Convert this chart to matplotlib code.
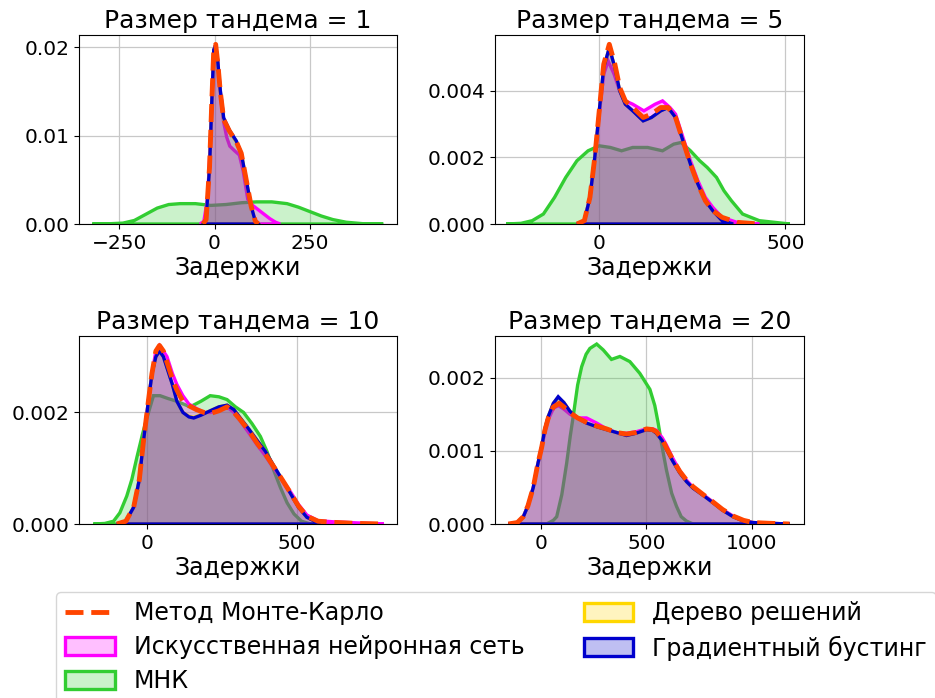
import matplotlib
matplotlib.use("Agg")
import matplotlib.pyplot as plt
from matplotlib.lines import Line2D
from matplotlib.patches import Patch
from matplotlib.ticker import FormatStrFormatter

plt.rcParams["font.family"] = ["DejaVu Sans"]

TITLES = ["Размер тандема = 1", "Размер тандема = 5",
          "Размер тандема = 10", "Размер тандема = 20"]
XLABEL = "Задержки"
LABELS = ["Метод Монте-Карло", "Искусственная нейронная сеть", "МНК",
          "Дерево решений", "Градиентный бустинг"]

# ---- tandem size 1 ----
X1_MC = [-30, -22, -13, -7, -2, 3, 9, 15, 24, 39, 57, 70, 83, 96, 107, 115]
Y1_MC = [0, 0.0005, 0.0065, 0.014, 0.0197, 0.0203, 0.018, 0.015, 0.0118, 0.0105,
         0.0093, 0.008, 0.005, 0.002, 0.0003, 0]
X1_ANN = [-38, -28, -18, -10, -4, 2, 7, 12, 17, 24, 32, 40, 52, 65, 75, 87, 100, 115, 130, 145, 160, 172]
Y1_ANN = [0, 0.0003, 0.003, 0.010, 0.017, 0.0202, 0.019, 0.0165, 0.014, 0.0115, 0.0098,
          0.0088, 0.0083, 0.0078, 0.006, 0.0028, 0.0021, 0.0016, 0.0011, 0.0006, 0.0002, 0]
X1_OLS = [-320, -280, -240, -210, -180, -150, -120, -90, -50, -10, 30, 70, 110, 150,
          190, 220, 250, 280, 310, 345, 390, 442]
Y1_OLS = [0, 0.00002, 0.0001, 0.0004, 0.0011, 0.0018, 0.0022, 0.0023, 0.0023, 0.0021,
          0.0022, 0.0024, 0.0025, 0.0025, 0.0023, 0.0019, 0.0014, 0.0009, 0.0005, 0.0002,
          0.00003, 0]
X1_TREE = [-30, -22, -13, -7, -2, 3, 9, 15, 24, 39, 57, 70, 83, 96, 107, 115]
Y1_TREE = [0, 0.0005, 0.0065, 0.014, 0.0197, 0.0202, 0.018, 0.015, 0.0118, 0.0105,
           0.0093, 0.008, 0.005, 0.002, 0.0003, 0]
X1_GB = [-30, -22, -13, -7, -2, 3, 9, 15, 24, 39, 57, 70, 83, 96, 107, 115]
Y1_GB = [0, 0.0005, 0.0065, 0.014, 0.0197, 0.0202, 0.0182, 0.0152, 0.012, 0.0106,
         0.0094, 0.008, 0.005, 0.002, 0.0003, 0]

# ---- tandem size 5 ----
X2_MC = [-60, -40, -25, -12, 0, 12, 27, 42, 55, 70, 90, 118, 140, 165, 185, 205, 225,
         245, 265, 285, 305, 330, 370, 430]
Y2_MC = [0, 0.0001, 0.0008, 0.002, 0.0034, 0.0048, 0.0054, 0.0048, 0.0041, 0.0037,
         0.0035, 0.0032, 0.0033, 0.0035, 0.0035, 0.0032, 0.0025, 0.0018, 0.0012, 0.0007,
         0.0004, 0.0002, 0.00005, 0]
X2_ANN = [-60, -40, -25, -12, 0, 12, 24, 40, 55, 70, 90, 120, 150, 170, 190, 205, 225,
          245, 265, 285, 305, 330, 370, 430]
Y2_ANN = [0, 0.0001, 0.0008, 0.002, 0.0033, 0.0045, 0.0049, 0.0045, 0.004, 0.0037,
          0.0036, 0.0034, 0.0036, 0.0037, 0.0035, 0.0033, 0.0026, 0.0019, 0.0013, 0.0008,
          0.0005, 0.0002, 0.00005, 0]
X2_OLS = [-250, -210, -180, -150, -120, -90, -60, -30, 0, 30, 60, 90, 130, 170, 200,
          220, 245, 270, 290, 315, 335, 355, 385, 430, 512]
Y2_OLS = [0, 0.00002, 0.0001, 0.0003, 0.0008, 0.0014, 0.0019, 0.0022, 0.00235, 0.0023,
          0.0022, 0.0023, 0.0023, 0.0022, 0.0024, 0.00245, 0.0022, 0.0019, 0.0017, 0.0014,
          0.001, 0.0007, 0.0003, 0.0001, 0]
X2_TREE = [-60, -40, -25, -12, 0, 12, 27, 42, 55, 70, 90, 118, 140, 165, 185, 205, 225,
           245, 265, 285, 305, 330, 360]
Y2_TREE = [0, 0.0001, 0.0008, 0.002, 0.0034, 0.0047, 0.0053, 0.0047, 0.004, 0.0036,
           0.0034, 0.0031, 0.0032, 0.0034, 0.0035, 0.0032, 0.0025, 0.0018, 0.0012, 0.0007,
           0.0004, 0.0001, 0]
X2_GB = [-60, -40, -25, -12, 0, 12, 27, 42, 55, 70, 90, 118, 140, 165, 185, 205, 225,
         245, 265, 285, 305, 330, 360]
Y2_GB = [0, 0.0001, 0.0008, 0.002, 0.0034, 0.0047, 0.0053, 0.0047, 0.004, 0.0036,
         0.0034, 0.0031, 0.0032, 0.0034, 0.0035, 0.0032, 0.0025, 0.0018, 0.0012, 0.0007,
         0.0004, 0.0001, 0]

# ---- tandem size 10 ----
X3_MC = [-100, -70, -44, -25, -11, 5, 17, 30, 42, 55, 67, 85, 100, 120, 140, 165, 190,
         211, 240, 267, 290, 311, 340, 367, 395, 422, 450, 478, 505, 533, 570, 620, 700, 789]
Y3_MC = [0, 0.00005, 0.0003, 0.0008, 0.0015, 0.0022, 0.0027, 0.0031, 0.0032, 0.0031,
         0.0029, 0.0026, 0.0024, 0.0022, 0.00212, 0.00205, 0.002, 0.00198, 0.00203, 0.0021,
         0.002, 0.00187, 0.00167, 0.00145, 0.00125, 0.00103, 0.0008, 0.00056, 0.00032,
         0.00014, 0.00005, 0.00003, 0.00001, 0]
X3_ANN = [-100, -70, -44, -25, -11, 5, 17, 30, 42, 55, 67, 85, 100, 120, 140, 165, 190,
          211, 240, 267, 290, 311, 340, 367, 395, 422, 450, 478, 505, 533, 570, 620, 700, 789]
Y3_ANN = [0, 0.00005, 0.0003, 0.0008, 0.0015, 0.0022, 0.0027, 0.0031, 0.0032, 0.0031,
          0.003, 0.0027, 0.0025, 0.0023, 0.00215, 0.00207, 0.002, 0.002, 0.00204, 0.0021,
          0.002, 0.00185, 0.00163, 0.00142, 0.00122, 0.001, 0.0008, 0.00058, 0.00035,
          0.00016, 0.00006, 0.00004, 0.00002, 0]
X3_OLS = [-178, -140, -111, -90, -67, -50, -33, -15, 0, 22, 44, 70, 100, 144, 180, 211,
          240, 267, 295, 322, 350, 378, 400, 422, 445, 467, 490, 515, 545]
Y3_OLS = [0, 0.00001, 0.00005, 0.0002, 0.0005, 0.0008, 0.0012, 0.0016, 0.0019, 0.0023,
          0.0023, 0.00225, 0.0022, 0.0021, 0.0022, 0.0023, 0.00228, 0.00223, 0.0021, 0.002,
          0.0018, 0.00157, 0.0013, 0.00097, 0.00065, 0.00038, 0.00018, 0.00005, 0]
X3_TREE = [-100, -70, -44, -25, -11, 5, 17, 30, 42, 55, 67, 85, 100, 120, 140, 156, 180,
           211, 240, 267, 290, 311, 340, 367, 395, 422, 450, 478, 505, 533, 578]
Y3_TREE = [0, 0.00005, 0.0003, 0.0008, 0.0015, 0.0022, 0.0027, 0.003, 0.0031, 0.003,
           0.0028, 0.0025, 0.0022, 0.002, 0.00193, 0.00191, 0.00196, 0.00203, 0.0021,
           0.00213, 0.00205, 0.0019, 0.0017, 0.0015, 0.0013, 0.00105, 0.0008, 0.00055,
           0.0003, 0.00012, 0]
X3_GB = [-100, -70, -44, -25, -11, 5, 17, 30, 42, 55, 67, 85, 100, 120, 140, 156, 180,
         211, 240, 267, 290, 311, 340, 367, 395, 422, 450, 478, 505, 533, 578]
Y3_GB = [0, 0.00005, 0.0003, 0.0008, 0.0015, 0.0022, 0.0027, 0.003, 0.0031, 0.003,
         0.0028, 0.0025, 0.0022, 0.002, 0.00192, 0.0019, 0.00195, 0.00203, 0.0021, 0.00213,
         0.00205, 0.0019, 0.0017, 0.0015, 0.0013, 0.00105, 0.0008, 0.00055, 0.0003,
         0.00012, 0]

# ---- tandem size 20 ----
X4_MC = [-153, -110, -82, -60, -35, -15, 5, 20, 36, 60, 88, 110, 139, 175, 217, 265, 312,
         360, 406, 450, 501, 530, 548, 575, 595, 625, 658, 690, 721, 770, 816, 860, 910,
         960, 1005, 1080, 1178]
Y4_MC = [0, 0.00002, 0.0001, 0.00025, 0.0005, 0.0008, 0.00105, 0.00128, 0.00145, 0.0016,
         0.00165, 0.0016, 0.00152, 0.00145, 0.00139, 0.00134, 0.0013, 0.00125, 0.00123,
         0.00125, 0.0013, 0.00129, 0.00126, 0.00116, 0.00104, 0.00088, 0.00072, 0.0006,
         0.00051, 0.0004, 0.0003, 0.0002, 0.00011, 0.00005, 0.00002, 0.00001, 0]
X4_ANN = [-153, -110, -82, -60, -35, -15, 5, 20, 36, 60, 83, 110, 139, 175, 217, 265, 312,
          360, 406, 450, 501, 530, 548, 575, 595, 625, 658, 690, 721, 770, 816, 860, 910,
          960, 1005, 1080, 1178]
Y4_ANN = [0, 0.00002, 0.0001, 0.00025, 0.0005, 0.0008, 0.00104, 0.00126, 0.00143, 0.00158,
          0.00162, 0.00157, 0.0015, 0.00145, 0.00145, 0.00138, 0.0013, 0.00125, 0.00124,
          0.00126, 0.0013, 0.0013, 0.00128, 0.00118, 0.00108, 0.0009, 0.00073, 0.0006,
          0.0005, 0.0004, 0.0003, 0.0002, 0.00011, 0.00005, 0.00002, 0.00001, 0]
X4_OLS = [28, 60, 76, 100, 123, 140, 154, 175, 194, 215, 233, 265, 296, 335, 375, 422,
          469, 517, 540, 556, 575, 595, 620, 643, 665, 690, 721]
Y4_OLS = [0, 0.00005, 0.0001, 0.0004, 0.00083, 0.0012, 0.00147, 0.0019, 0.00215, 0.00232,
          0.0024, 0.00246, 0.00238, 0.00225, 0.00229, 0.00222, 0.00206, 0.00184, 0.00162,
          0.00138, 0.00105, 0.00074, 0.00042, 0.00024, 0.0001, 0.00004, 0]
X4_TREE = [-153, -110, -82, -60, -35, -15, 5, 20, 36, 60, 83, 110, 139, 175, 217, 265, 312,
           360, 406, 450, 501, 530, 548, 575, 595, 625, 658, 690, 721, 770, 816, 860, 910,
           960, 1005, 1080, 1178]
Y4_TREE = [0, 0.00002, 0.0001, 0.00025, 0.0005, 0.0008, 0.00106, 0.0013, 0.00147, 0.00165,
           0.00173, 0.00166, 0.00154, 0.00145, 0.00138, 0.00133, 0.00129, 0.00125, 0.00121,
           0.00124, 0.00129, 0.00128, 0.00124, 0.00114, 0.00102, 0.00086, 0.0007, 0.00058,
           0.00049, 0.00039, 0.00029, 0.00019, 0.0001, 0.00004, 0.00002, 0.00001, 0]
X4_GB = [-153, -110, -82, -60, -35, -15, 5, 20, 36, 60, 83, 110, 139, 175, 217, 265, 312,
         360, 406, 450, 501, 530, 548, 575, 595, 625, 658, 690, 721, 770, 816, 860, 910,
         960, 1005, 1080, 1178]
Y4_GB = [0, 0.00002, 0.0001, 0.00025, 0.0005, 0.0008, 0.00106, 0.0013, 0.00147, 0.00165,
         0.00174, 0.00166, 0.00154, 0.00145, 0.00138, 0.00133, 0.00129, 0.00125, 0.00121,
         0.00124, 0.00129, 0.00128, 0.00124, 0.00114, 0.00102, 0.00086, 0.0007, 0.00058,
         0.00049, 0.00039, 0.00029, 0.00019, 0.0001, 0.00004, 0.00002, 0.00001, 0]

PANELS = [
    dict(mc=(X1_MC, Y1_MC), ann=(X1_ANN, Y1_ANN), ols=(X1_OLS, Y1_OLS),
         tree=(X1_TREE, Y1_TREE), gb=(X1_GB, Y1_GB)),
    dict(mc=(X2_MC, Y2_MC), ann=(X2_ANN, Y2_ANN), ols=(X2_OLS, Y2_OLS),
         tree=(X2_TREE, Y2_TREE), gb=(X2_GB, Y2_GB)),
    dict(mc=(X3_MC, Y3_MC), ann=(X3_ANN, Y3_ANN), ols=(X3_OLS, Y3_OLS),
         tree=(X3_TREE, Y3_TREE), gb=(X3_GB, Y3_GB)),
    dict(mc=(X4_MC, Y4_MC), ann=(X4_ANN, Y4_ANN), ols=(X4_OLS, Y4_OLS),
         tree=(X4_TREE, Y4_TREE), gb=(X4_GB, Y4_GB)),
]
XTICKS = [[-250, 0, 250], [0, 500], [0, 500], [0, 500, 1000]]
YTICKS = [[0, 0.01, 0.02], [0, 0.002, 0.004], [0, 0.002], [0, 0.001, 0.002]]
YFMT = ["%.2f", "%.3f", "%.3f", "%.3f"]
XLIM = [(-355, 478), (-280, 550), (-226, 833), (-216, 1246)]
YLIM = [0.02136, 0.00568, 0.00337, 0.00257]

C_MC, C_ANN, C_OLS, C_TREE, C_GB = "#ff4500", "#ff00ff", "#32cd32", "#ffd700", "#0000cd"
FILL_A = 0.25


def face(c):
    return (*matplotlib.colors.to_rgb(c), FILL_A)


fig = plt.figure(figsize=(9.35, 6.98), dpi=100)
W, H = 935, 698
boxes = [(79, 35, 397, 224), (495, 35, 804, 224), (79, 336, 397, 524), (495, 336, 804, 524)]

for i, (l, t, r, b) in enumerate(boxes):
    ax = fig.add_axes([l / W, 1 - b / H, (r - l) / W, (b - t) / H])
    p = PANELS[i]
    for key, c in [("ols", C_OLS), ("ann", C_ANN), ("tree", C_TREE), ("gb", C_GB)]:
        xs, ys = p[key]
        ax.fill(xs, ys, facecolor=face(c), edgecolor=c, lw=2.4, zorder=2)
    xs, ys = p["mc"]
    ax.plot(xs, ys, color=C_MC, lw=3.5, ls="--", zorder=3)
    ax.set_xlim(*XLIM[i])
    ax.set_ylim(0, YLIM[i])
    ax.set_xticks(XTICKS[i])
    ax.set_yticks(YTICKS[i])
    ax.yaxis.set_major_formatter(FormatStrFormatter(YFMT[i]))
    ax.tick_params(labelsize=14.5)
    ax.grid(True, color="#c8c8c8", lw=0.9)
    ax.set_axisbelow(True)
    ax.set_xlabel(XLABEL, fontsize=17, labelpad=2)
    ax.set_title(TITLES[i], fontsize=18, pad=5)

handles = [
    Line2D([0], [0], color=C_MC, lw=3.5, ls="--"),
    Patch(facecolor=face(C_ANN), edgecolor=C_ANN, lw=2.4),
    Patch(facecolor=face(C_OLS), edgecolor=C_OLS, lw=2.4),
    Patch(facecolor=face(C_TREE), edgecolor=C_TREE, lw=2.4),
    Patch(facecolor=face(C_GB), edgecolor=C_GB, lw=2.4),
]
fig.legend(handles, LABELS, ncol=2, loc="upper left",
           bbox_to_anchor=(56 / W, 1 - 592 / H), borderaxespad=0, fontsize=17,
           labelspacing=0.42, handlelength=2.1, handleheight=0.8, handletextpad=0.8,
           columnspacing=2.5, borderpad=0.4, framealpha=0.8)

fig.savefig("out.png", dpi=100)
